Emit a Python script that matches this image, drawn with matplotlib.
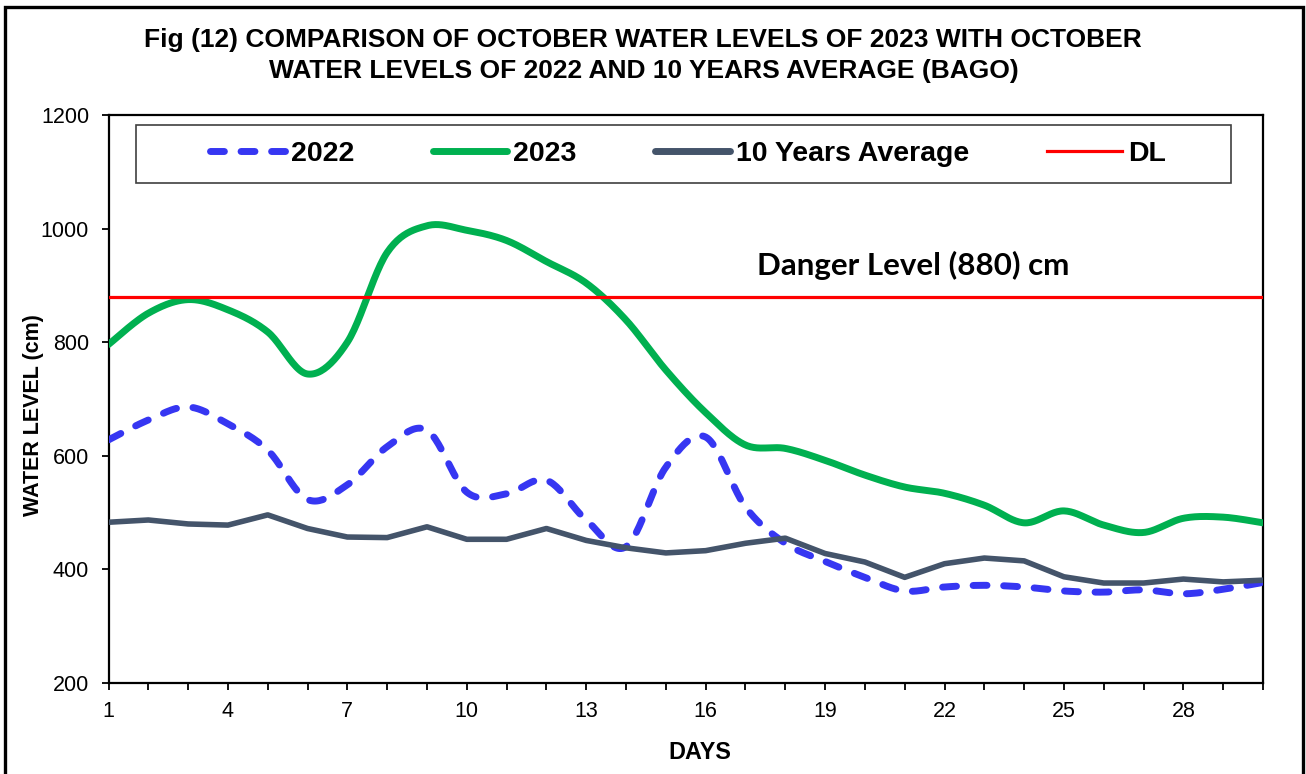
import numpy as np
import matplotlib
matplotlib.use("Agg")
import matplotlib.pyplot as plt
from matplotlib.lines import Line2D
from matplotlib.patches import Rectangle

# ---------------- data ----------------
days = list(range(1, 31))
wl_2022 = [628, 663, 686, 656, 610, 523, 549, 616, 645, 536, 533, 557, 487, 440, 580,
           633, 510, 446, 414, 386, 362, 369, 372, 369, 362, 360, 364, 357, 365, 377]
wl_2023 = [796, 851, 875, 857, 818, 744, 800, 958, 1005, 997, 979, 942, 904, 839, 751,
           676, 619, 613, 592, 566, 545, 534, 513, 482, 503, 478, 465, 490, 492, 482]
avg_10y = [483, 487, 480, 478, 496, 472, 457, 456, 475, 453, 453, 472, 451, 438, 429,
           433, 446, 455, 428, 413, 386, 410, 420, 415, 387, 376, 376, 383, 378, 381]
danger_level = 880
series_labels = ["2022", "2023", "10 Years Average", "DL"]
x_tick_labels = [1, 4, 7, 10, 13, 16, 19, 22, 25, 28]
y_ticks = [200, 400, 600, 800, 1000, 1200]

title_lines = ["Fig (12) COMPARISON OF OCTOBER WATER LEVELS OF 2023 WITH OCTOBER",
               "WATER LEVELS OF 2022 AND 10 YEARS AVERAGE (BAGO)"]

# ---------------- helpers ----------------
def smooth(x, y, n=24):
    """Excel-like smoothed line (Catmull-Rom Bezier) through the data points."""
    P = np.column_stack([np.asarray(x, float), np.asarray(y, float)])
    E = np.vstack([P[0], P, P[-1]])
    t = np.linspace(0, 1, n, endpoint=False)[:, None]
    segs = []
    for i in range(len(P) - 1):
        p0, p1, p2, p3 = E[i], E[i + 1], E[i + 2], E[i + 3]
        c1 = p1 + (p2 - p0) / 6.0
        c2 = p2 - (p3 - p1) / 6.0
        segs.append((1 - t) ** 3 * p1 + 3 * (1 - t) ** 2 * t * c1
                    + 3 * (1 - t) * t ** 2 * c2 + t ** 3 * p2)
    segs.append(P[-1:])
    S = np.vstack(segs)
    return S[:, 0], S[:, 1]

W, H = 1306, 774
fig = plt.figure(figsize=(W / 100, H / 100), dpi=100)
fig.patch.set_facecolor("white")

def fx(px):
    return px / W

def fy(py):
    return 1 - py / H

ax = fig.add_axes([fx(108.5), fy(683), fx(1263) - fx(108.5), (683 - 115) / H])

blue = "#3636F2"
green = "#00B050"
gray = "#44546A"
red = "#FF0000"

dash_style = (0, (2.0, 2.4))

x22, y22 = smooth(days, wl_2022)
x23, y23 = smooth(days, wl_2023)
ax.plot(x22, y22, color=blue, lw=5.0, linestyle=dash_style,
        dash_capstyle="round", solid_capstyle="round", zorder=3)
ax.plot(x23, y23, color=green, lw=5.0, solid_capstyle="round", zorder=4)
ax.plot(days, avg_10y, color=gray, lw=4.0, solid_joinstyle="round", zorder=3)
ax.plot(days, [danger_level] * len(days), color=red, lw=2.3, zorder=5)

ax.set_xlim(1, 30)
ax.set_ylim(200, 1200)
ax.set_xticks(days)
ax.set_xticklabels([str(d) if d in x_tick_labels else "" for d in days])
ax.set_yticks(y_ticks)
ax.set_yticklabels([str(v) for v in y_ticks])
for lab in ax.get_xticklabels() + ax.get_yticklabels():
    lab.set_fontfamily("Liberation Sans")
    lab.set_fontsize(15.5)
ax.tick_params(axis="x", direction="out", length=5, width=1.3, pad=8, colors="black")
ax.tick_params(axis="y", direction="out", length=5, width=1.3, pad=9, colors="black")
for sp in ax.spines.values():
    sp.set_linewidth(1.6)
    sp.set_color("black")

# Danger level annotation
fig.text(fx(757), fy(275), "Danger Level (880) cm", family="Lato", fontweight="bold",
         fontsize=22.5, ha="left", va="baseline", color="black")

# Axis labels
fig.text(fx(700), fy(759), "DAYS", family="Liberation Sans", fontweight="bold",
         fontsize=16.8, ha="center", va="baseline")
fig.text(fx(34), fy(415), "WATER LEVEL (cm)", family="Liberation Sans", fontweight="bold",
         fontsize=15.5, ha="center", va="center", rotation=90)

# Title
fig.text(fx(643), fy(47.5), title_lines[0], family="Liberation Sans", fontweight="bold",
         fontsize=19, ha="center", va="baseline")
fig.text(fx(644), fy(78), title_lines[1], family="Liberation Sans", fontweight="bold",
         fontsize=19, ha="center", va="baseline")

# Legend box
fig.add_artist(Rectangle((fx(135.5), fy(183)), fx(1230.5) - fx(135.5), (183 - 125) / H,
                         transform=fig.transFigure, facecolor="white",
                         edgecolor="#404040", lw=1.2, zorder=6))
handles = [
    Line2D([], [], color=blue, lw=5.0, linestyle=dash_style, dash_capstyle="round"),
    Line2D([], [], color=green, lw=5.0, solid_capstyle="round"),
    Line2D([], [], color=gray, lw=5.0, solid_capstyle="round"),
    Line2D([], [], color=red, lw=2.3),
]
leg = fig.legend(handles, series_labels, loc="center left",
                 bbox_to_anchor=(fx(210), fy(154)), bbox_transform=fig.transFigure,
                 ncol=4, frameon=False, borderpad=0, borderaxespad=0,
                 handlelength=2.63, handletextpad=0.21, columnspacing=2.75,
                 prop={"family": "Liberation Sans", "weight": "bold", "size": 20.5})
leg.set_zorder(7)

# Outer frame
fig.add_artist(Rectangle((fx(5), -0.05), fx(1303) - fx(5), fy(7) + 0.05,
                         transform=fig.transFigure, fill=False,
                         edgecolor="black", lw=2.4, zorder=10))

fig.savefig("out.png", dpi=100)
